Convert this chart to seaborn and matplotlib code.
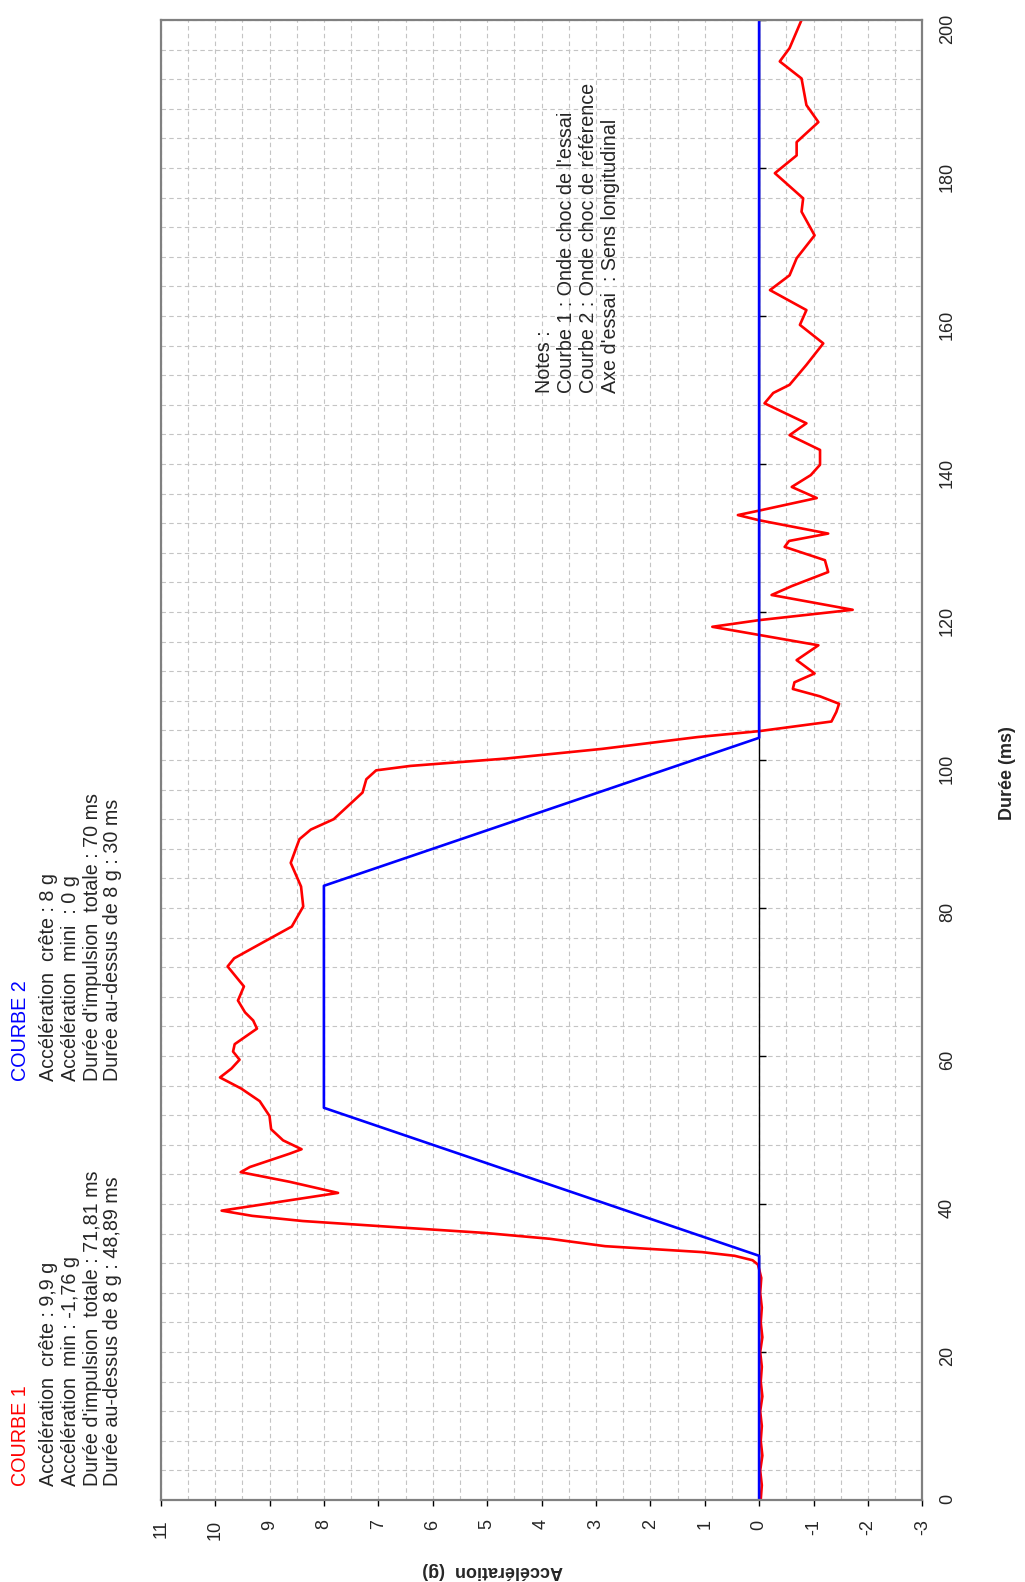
import numpy as np
import pandas as pd
import seaborn as sns
import matplotlib
matplotlib.use("Agg")
import matplotlib.pyplot as plt
from matplotlib.ticker import MultipleLocator
from matplotlib.markers import TICKRIGHT

# courbe 1 : onde choc de l'essai (temps en ms, acceleration en g)
t_essai = [0, 2, 4, 6, 8, 10, 12, 14, 16, 18, 20, 22, 24, 26, 28, 30,
           31.8, 32.4, 33.0, 33.5, 34.3, 35.3, 36.1, 36.8, 37.7, 38.4, 39.1,
           40.3, 41.5, 43.0, 44.3, 45.0, 46.8, 47.4, 48.6, 50.1, 51.9, 53.9,
           55.6, 57.1, 58.3, 59.5, 60.6, 61.6, 63.7, 64.8, 65.9, 67.5, 69.4,
           72.1, 73.2, 75.8, 77.5, 80.2, 82.9, 86.1, 89.3, 90.6, 92.0, 95.6,
           97.4, 98.6, 99.2, 100.2, 101.5, 103.1, 103.9, 105.2, 106.5, 107.6,
           108.6, 109.6, 110.5, 111.7, 113.5, 115.5, 116.9, 118.0, 118.9,
           120.3, 122.3, 123.5, 125.4, 127.0, 128.8, 129.6, 130.6, 132.4,
           133.1, 133.7, 135.4, 136.9, 138.5, 139.9, 141.9, 143.9, 145.5,
           148.2, 149.6, 150.7, 153.4, 156.3, 158.8, 160.8, 163.5, 165.5,
           167.8, 170.9, 174.1, 175.9, 179.3, 181.7, 183.5, 186.2, 188.5,
           192.1, 194.4, 196.2, 200.0]
acc_essai = [-0.03, -0.05, -0.02, -0.06, -0.03, -0.05, -0.02, -0.06, -0.03,
             -0.05, -0.02, -0.06, -0.03, -0.05, -0.02, -0.04,
             0.02, 0.12, 0.45, 1.05, 2.83, 3.85, 5.06, 6.54, 8.39, 9.32, 9.88,
             8.81, 7.74, 8.63, 9.53, 9.36, 8.63, 8.41, 8.75, 8.97, 9.0, 9.18,
             9.52, 9.91, 9.70, 9.55, 9.67, 9.64, 9.23, 9.30, 9.45, 9.58, 9.47,
             9.77, 9.65, 9.01, 8.59, 8.38, 8.42, 8.61, 8.45, 8.24, 7.82, 7.29,
             7.22, 7.04, 6.41, 4.65, 2.89, 1.13, 0.0, -1.33, -1.42, -1.47,
             -1.12, -0.62, -0.65, -1.02, -0.69, -1.09, 0.0, 0.86, 0.0,
             -1.72, -0.23, -0.60, -1.27, -1.21, -0.47, -0.55, -1.27, 0.0,
             0.39, 0.0, -1.06, -0.60, -0.95, -1.12, -1.12, -0.56, -0.87,
             -0.10, -0.26, -0.56, -0.87, -1.18, -0.75, -0.87, -0.20, -0.56,
             -0.69, -1.02, -0.78, -0.81, -0.29, -0.69, -0.69, -1.09, -0.87,
             -0.78, -0.38, -0.56, -0.78]

# courbe 2 : onde choc de reference
t_ref = [0, 33, 53, 83, 103, 200]
acc_ref = [0, 0, 8, 8, 0, 0]

acc_ticks = list(range(-3, 12))
duree_ticks = list(range(0, 201, 20))

courbe1_lignes = ["Accélération  crête : 9,9 g",
                  "Accélération  min : -1,76 g",
                  "Durée d'impulsion  totale : 71,81 ms",
                  "Durée au-dessus de 8 g : 48,89 ms"]
courbe2_lignes = ["Accélération  crête : 8 g",
                  "Accélération  mini  : 0 g",
                  "Durée d'impulsion  totale : 70 ms",
                  "Durée au-dessus de 8 g : 30 ms"]
notes_lignes = ["Notes :",
                "Courbe 1 : Onde choc de l'essai",
                "Courbe 2 : Onde choc de référence",
                "Axe d'essai  : Sens longitudinal"]

df_essai = pd.DataFrame({"t": t_essai, "acc": acc_essai})
df_ref = pd.DataFrame({"t": t_ref, "acc": acc_ref})

sns.set_style("white")
plt.rcParams['font.family'] = ['Liberation Sans', 'DejaVu Sans']
plt.rcParams['axes.unicode_minus'] = False

W, H = 1025, 1582
fig = plt.figure(figsize=(W/100, H/100), dpi=100)
ax = fig.add_axes([160.7/W, 82/H, 761.6/W, 1480/H])

def pos(x, y):
    return x/W, 1 - y/H

# chart drawn sideways: acceleration runs horizontally, duree vertically
sns.lineplot(data=df_essai, x="acc", y="t", sort=False, estimator=None,
             color="#ff0000", lw=1.9, ax=ax)
ax.axvline(0, color="black", lw=1, zorder=1.5)
ax.plot([0]*len(duree_ticks), duree_ticks, ls="", marker=TICKRIGHT, ms=5,
        mew=1, color="black", zorder=1.6)
sns.lineplot(data=df_ref, x="acc", y="t", sort=False, estimator=None,
             color="#0000ff", lw=1.9, ax=ax)

ax.set_xlim(11, -3)
ax.set_ylim(0, 200)
ax.set_xticks(acc_ticks)
ax.set_yticks(duree_ticks)
ax.xaxis.set_minor_locator(MultipleLocator(0.5))
ax.yaxis.set_minor_locator(MultipleLocator(4))
ax.grid(which="both", ls=(0, (4, 3)), color="#c4c4c4", lw=0.8)
ax.set_axisbelow(True)
ax.set_xlabel("")
ax.set_ylabel("")

ax.tick_params(axis="x", which="major", direction="out", length=4, width=1,
               color="black", pad=10, labelsize=13, labelrotation=90,
               bottom=True, top=False)
ax.tick_params(axis="y", which="major", length=0, pad=12, labelsize=13,
               labelrotation=90, left=False, right=False,
               labelleft=False, labelright=True)
ax.tick_params(which="minor", length=0)
for sp in ax.spines.values():
    sp.set_color("#808080")
    sp.set_linewidth(1.6)

fig.text(*pos(1007, 773), "Durée (ms)", rotation=90, ha="center",
         va="center", fontsize=13, fontweight="bold")
fig.text(*pos(493, 1570), "Accélération  (g)", rotation=180, ha="center",
         va="center", fontsize=13, fontweight="bold")

fs = 14.2
col_x = [49, 70, 92, 113]
fig.text(*pos(20, 1486), "COURBE 1", color="#ff0000", rotation=90,
         rotation_mode="anchor", ha="left", va="center", fontsize=fs)
for x, s in zip(col_x, courbe1_lignes):
    fig.text(*pos(x, 1486), s, rotation=90, rotation_mode="anchor",
             ha="left", va="center", fontsize=fs)
fig.text(*pos(20, 1081), "COURBE 2", color="#0000ff", rotation=90,
         rotation_mode="anchor", ha="left", va="center", fontsize=fs)
for x, s in zip(col_x, courbe2_lignes):
    fig.text(*pos(x, 1081), s, rotation=90, rotation_mode="anchor",
             ha="left", va="center", fontsize=fs)
for x, s in zip([545, 567, 588, 610], notes_lignes):
    fig.text(*pos(x, 393), s, rotation=90, rotation_mode="anchor",
             ha="left", va="center", fontsize=fs)

fig.savefig("out.png", dpi=100)
